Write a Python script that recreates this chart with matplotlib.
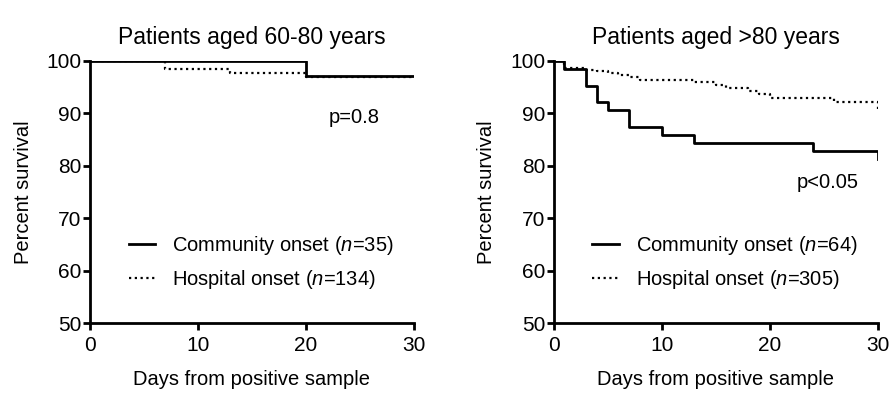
import numpy as np
import matplotlib
matplotlib.use('Agg')
import matplotlib.pyplot as plt

plt.rcParams['font.family'] = ['Liberation Sans', 'DejaVu Sans']
plt.rcParams['mathtext.fontset'] = 'custom'
plt.rcParams['mathtext.rm'] = 'Liberation Sans'
plt.rcParams['mathtext.it'] = 'Liberation Sans:italic'

# --- data ---
# 60-80 years
t_com_6080 = [0, 20, 30]
s_com_6080 = [100, 97.1, 97.1]
t_hosp_6080 = [0, 7, 13, 20, 30]
s_hosp_6080 = [100, 98.5, 97.8, 97.0, 96.9]

# >80 years
t_com_80 = [0, 1, 3, 4, 5, 7, 10, 13, 24, 30]
s_com_80 = [100, 98.4, 95.3, 92.2, 90.6, 87.5, 85.9, 84.4, 82.8, 81.3]
t_hosp_80 = [0, 1, 3, 4, 5, 6, 7, 8, 13, 15, 16, 18, 19, 20, 26, 30]
s_hosp_80 = [100, 98.7, 98.3, 98.0, 97.7, 97.4, 97.0, 96.3, 96.0, 95.5,
             94.8, 94.3, 93.7, 93.0, 92.1, 90.8]

panels = [
    ("Patients aged 60-80 years", t_com_6080, s_com_6080, t_hosp_6080, s_hosp_6080,
     35, 134, "p=0.8", (22.1, 89.3)),
    ("Patients aged >80 years", t_com_80, s_com_80, t_hosp_80, s_hosp_80,
     64, 305, "p<0.05", (22.5, 76.9)),
]

fig = plt.figure(figsize=(8.9, 3.96), dpi=100)
lefts = [0.101, 0.622]

for left, (title, tc, sc, th, sh, nc, nh, ptxt, ppos) in zip(lefts, panels):
    ax = fig.add_axes([left, 0.184, 0.364, 0.662])
    ax.step(tc, sc, where='post', color='black', lw=2.0,
            label='Community onset ($\\it{n}$=%d)' % nc)
    ax.step(th, sh, where='post', color='black', lw=1.6,
            linestyle=(0, (1, 1.6)),
            label='Hospital onset ($\\it{n}$=%d)' % nh)
    ax.set_xlim(0, 30)
    ax.set_ylim(50, 100)
    ax.set_xticks([0, 10, 20, 30])
    ax.set_yticks([50, 60, 70, 80, 90, 100])
    for s in ['top', 'right']:
        ax.spines[s].set_visible(False)
    for s in ['left', 'bottom']:
        ax.spines[s].set_linewidth(2.0)
    ax.tick_params(width=2.0, length=5, labelsize=15)
    ax.tick_params(axis='x', pad=4)
    ax.tick_params(axis='y', pad=1)
    ax.set_title(title, fontsize=16.5, pad=12)
    ax.set_xlabel('Days from positive sample', fontsize=14.5, labelpad=11)
    ax.set_ylabel('Percent survival', fontsize=14.5, labelpad=10)
    ax.text(ppos[0], ppos[1], ptxt, fontsize=14.5, va='center', ha='left')
    ax.legend(loc='center left', bbox_to_anchor=(0.12, 0.23), frameon=False,
              fontsize=14.5, handlelength=1.3, handletextpad=0.85,
              labelspacing=0.55, borderpad=0, borderaxespad=0)

fig.savefig('out.png', dpi=100)
